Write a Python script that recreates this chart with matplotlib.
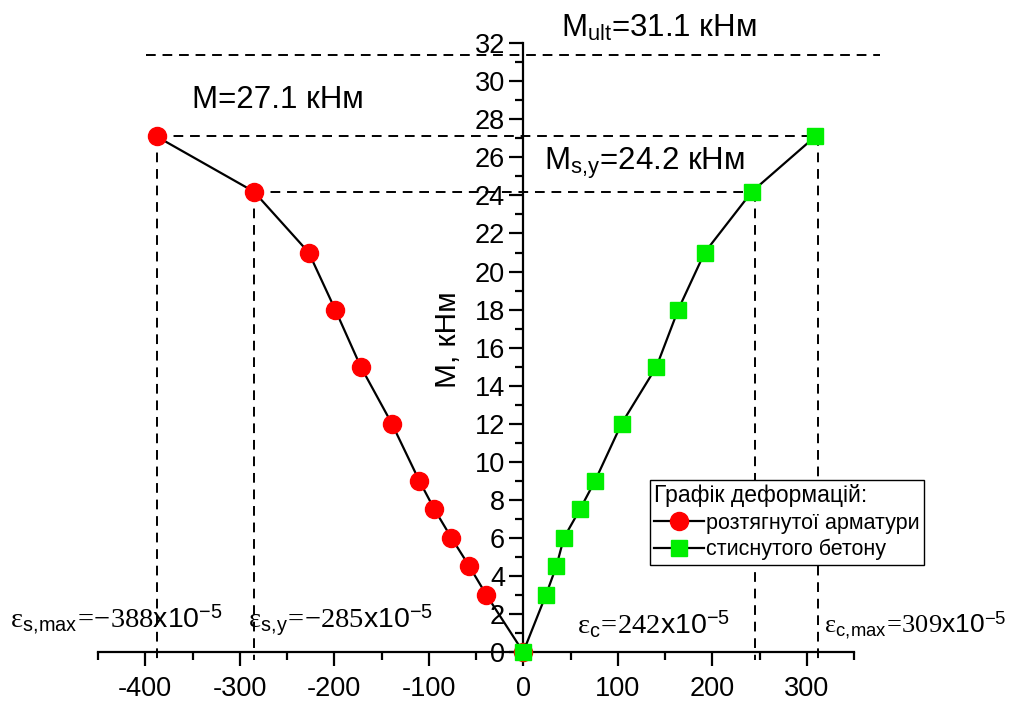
import matplotlib
matplotlib.use("Agg")
import matplotlib.pyplot as plt
from matplotlib.ticker import MultipleLocator

plt.rcParams['font.family'] = ['Liberation Sans', 'DejaVu Sans']
plt.rcParams['mathtext.fontset'] = 'custom'
plt.rcParams['mathtext.rm'] = 'Liberation Serif'
plt.rcParams['mathtext.sf'] = 'Liberation Sans'
plt.rcParams['mathtext.it'] = 'Liberation Serif:italic'
plt.rcParams['axes.unicode_minus'] = False

# Data
moment = [0, 3, 4.5, 6, 7.5, 9, 12, 15, 18, 21, 24.2, 27.1]
strain_steel = [0, -39, -57, -76, -94, -110, -139, -172, -199, -227, -285, -388]
strain_concrete = [0, 24, 35, 43, 60, 76, 104, 141, 164, 192, 242, 309]

M_ult = 31.1
M_ult_level = 31.4   # level at which the dashed M_ult line is drawn in the picture
M_max = 27.1
M_sy = 24.2
eps_s_max = -388
eps_s_y = -285
eps_c = 242
eps_c_max = 309

legend_title = "Графік деформацій:"
label_steel = "розтягнутої арматури"
label_concrete = "стиснутого бетону"

fig = plt.figure(figsize=(10.23, 7.07), dpi=100)
ax = fig.add_axes([0.0958, 0.0778, 0.739, 0.861])
ax.set_xlim(-450, 350)
ax.set_ylim(0, 32)

dash = (0, (5, 3.5))
lwd = 1.4
# reference dashed lines
ax.plot([eps_s_max - 11, 378], [M_ult_level, M_ult_level], color='black', ls=dash, lw=lwd, clip_on=False)
ax.plot([eps_s_max, eps_c_max], [M_max, M_max], color='black', ls=dash, lw=lwd, clip_on=False)
ax.plot([eps_s_y, eps_c], [M_sy, M_sy], color='black', ls=dash, lw=lwd, clip_on=False)
ax.plot([eps_s_max, eps_s_max], [M_max, -0.4], color='black', ls=dash, lw=lwd, clip_on=False)
ax.plot([eps_s_y, eps_s_y], [M_sy, -0.4], color='black', ls=dash, lw=lwd, clip_on=False)
ax.plot([eps_c + 3, eps_c + 3], [M_sy, -0.4], color='black', ls=dash, lw=lwd, clip_on=False)
ax.plot([eps_c_max + 3, eps_c_max + 3], [M_max, -0.4], color='black', ls=dash, lw=lwd, clip_on=False)

l1, = ax.plot(strain_steel, moment, color='black', lw=1.6, marker='o', ms=13,
              mfc='#ff0000', mec='#ff0000', label=label_steel, zorder=3, clip_on=False)
l2, = ax.plot(strain_concrete, moment, color='black', lw=1.6, marker='s', ms=12,
              mfc='#00ee00', mec='#00ee00', label=label_concrete, zorder=4, clip_on=False)

# spines
ax.spines['left'].set_position(('data', 0))
ax.spines['right'].set_visible(False)
ax.spines['top'].set_visible(False)
for s in ('left', 'bottom'):
    ax.spines[s].set_linewidth(1.6)
    ax.spines[s].set_zorder(2)

ax.xaxis.set_major_locator(MultipleLocator(100))
ax.xaxis.set_minor_locator(MultipleLocator(50))
ax.yaxis.set_major_locator(MultipleLocator(2))
ax.yaxis.set_minor_locator(MultipleLocator(1))
ax.tick_params(axis='both', which='major', direction='out', length=10, width=1.6, labelsize=19.5)
ax.tick_params(axis='both', which='minor', direction='out', length=5.5, width=1.6)
ax.tick_params(axis='x', which='major', pad=7)
ax.tick_params(axis='y', which='major', pad=3)

# y label
ax.text(-80, 16.4, "М, кНм", rotation=90, ha='center', va='center', fontsize=21.5)

# annotations
afs = 22.5
ax.text(-351, 29.0, "M=27.1 кНм", fontsize=afs, ha='left', va='center')
ax.text(40, 32.8, r"M$_{\mathsf{ult}}$=31.1 кНм", fontsize=afs, ha='left', va='center')
ax.text(22, 25.7, r"M$_{\mathsf{s,\!y}}$=24.2 кНм", fontsize=afs, ha='left', va='center')

efs = 20.5
ax.text(-543, 1.3, r"$\mathrm{\varepsilon_{\mathsf{s,\!max}}\!{=}\!{-}388}$x10$^{\mathsf{-5}}$",
        fontsize=efs, ha='left', va='baseline')
ax.text(-291, 1.3, r"$\mathrm{\varepsilon_{\mathsf{s,\!y}}\!{=}\!{-}285}$x10$^{\mathsf{-5}}$",
        fontsize=efs, ha='left', va='baseline')
ax.text(57, 1.0, r"$\mathrm{\varepsilon_{\mathsf{c}}\!{=}\!242}$x10$^{\mathsf{-5}}$",
        fontsize=efs, ha='left', va='baseline')
ax.text(318, 1.0, r"$\mathrm{\varepsilon_{\mathsf{c,\!max}}\!{=}\!309}$x10$^{\mathsf{-5}}$",
        fontsize=19, ha='left', va='baseline')

leg = fig.legend(handles=[l1, l2], title=legend_title, loc='upper left',
                 bbox_to_anchor=(650 / 1023, 1 - 480 / 707), fontsize=15.5,
                 title_fontsize=16.5, frameon=True, fancybox=False, edgecolor='black',
                 framealpha=1, numpoints=1, handlelength=2.3, handletextpad=0.1,
                 borderpad=0.2, labelspacing=0.25, borderaxespad=0, handleheight=0.8)
leg._legend_box.align = 'left'
leg.get_frame().set_linewidth(1.0)

fig.savefig("out.png", dpi=100)
